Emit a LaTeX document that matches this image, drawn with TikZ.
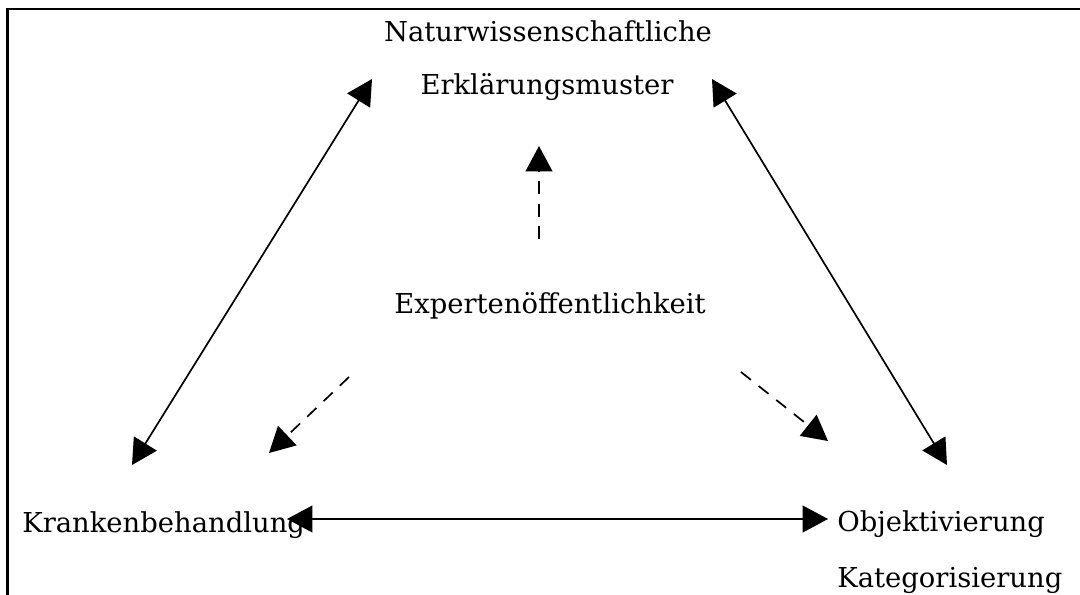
\documentclass[tikz,border=0pt]{standalone}
\usepackage{fontspec}
\setmainfont{DejaVu Serif}
\usepackage{tikz}
\usetikzlibrary{arrows.meta}

\begin{document}
\begin{tikzpicture}[
  x=0.025cm, y=-0.025cm,
  >={Triangle[length=18pt, width=19pt]},
  lbl/.style={inner sep=0pt, font=\fontsize{19.5}{23}\selectfont},
  con/.style={line width=1.2pt},
  dsh/.style={line width=1.2pt, dash pattern=on 9pt off 7pt},
  frame/.style={line width=2pt}]

  \useasboundingbox (0,0) rectangle (1080,594);
  \draw[frame] (7.5,600) -- (7.5,9) -- (1090,9);

  \node[lbl, anchor=base] (nat) at (548,41) {Naturwissenschaftliche};
  \node[lbl, anchor=base] (erk) at (547,94) {Erklärungsmuster};
  \node[lbl, anchor=base] (exp) at (550,313) {Expertenöffentlichkeit};
  \node[lbl, anchor=base west] (kra) at (22,532) {Krankenbehandlung};
  \node[lbl, anchor=base west] (obj) at (837,531) {Objektivierung};
  \node[lbl, anchor=base west] (kat) at (837,587) {Kategorisierung};

  % arrow ends
  \coordinate (erkL) at (372,79);
  \coordinate (erkR) at (712,79);
  \coordinate (kraT) at (132,465);
  \coordinate (objT) at (947,465);
  \coordinate (kraR) at (287,519);
  \coordinate (objL) at (828,519);

  \draw[<->, con] (erkL) -- (kraT);
  \draw[<->, con] (erkR) -- (objT);
  \draw[<->, con] (kraR) -- (objL);

  \draw[->, dsh] (539,239) -- (539,146);
  \draw[->, dsh] (349,377) -- (269,453);
  \draw[->, dsh] (741,372) -- (828,441);
\end{tikzpicture}
\end{document}
